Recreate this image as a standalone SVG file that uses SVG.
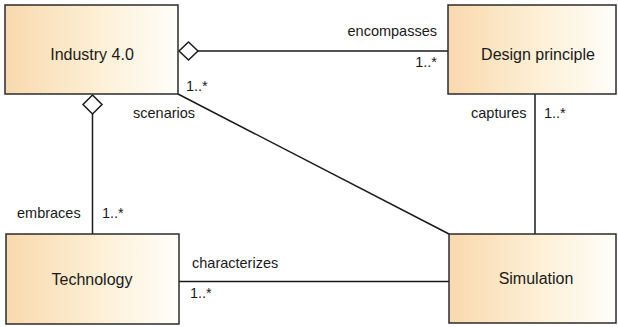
<svg xmlns="http://www.w3.org/2000/svg" width="618" height="327" viewBox="0 0 618 327">
<defs>
<linearGradient id="g" x1="0" y1="0" x2="1" y2="0">
<stop offset="0" stop-color="#f9d9ae"/>
<stop offset="0.55" stop-color="#fdf0d6"/>
<stop offset="1" stop-color="#fffefa"/>
</linearGradient>
<style>
.box{fill:url(#g);stroke:#2b2b2b;stroke-width:1.5}
.shadow{fill:#c8c8c8}
.nt{font-family:"Liberation Sans",Arial,sans-serif;font-size:16px;fill:#1a1a1a;text-anchor:middle}
.lb{font-family:"Liberation Sans",Arial,sans-serif;font-size:14.5px;fill:#1a1a1a}
.ln{fill:none;stroke:#1a1a1a;stroke-width:1.5}
.dia{fill:#fff;stroke:#1a1a1a;stroke-width:1.5}
</style>
</defs>
<g id="connectors">
<line class="ln" x1="198" y1="51" x2="448" y2="51"/>
<polygon class="dia" points="179,51 188.5,42 198,51 188.5,60"/>
<line class="ln" x1="92.5" y1="114" x2="92.5" y2="234"/>
<polygon class="dia" points="92.5,95 102,104.5 92.5,114 83,104.5"/>
<line class="ln" x1="178" y1="94" x2="449" y2="234"/>
<line class="ln" x1="179" y1="281.5" x2="449" y2="281.5"/>
<line class="ln" x1="535" y1="94" x2="535" y2="234"/>
<text class="lb" x="437" y="36" text-anchor="end">encompasses</text>
<text class="lb" x="437" y="67" text-anchor="end">1..*</text>
<text class="lb" x="186" y="91">1..*</text>
<text class="lb" x="133" y="118">scenarios</text>
<text class="lb" x="17" y="218">embraces</text>
<text class="lb" x="102" y="218">1..*</text>
<text class="lb" x="192" y="268">characterizes</text>
<text class="lb" x="190" y="298">1..*</text>
<text class="lb" x="471" y="118">captures</text>
<text class="lb" x="544" y="118">1..*</text>
</g>
<g id="industry">
<rect class="box" x="5" y="5" width="173" height="89"/>
<text class="nt" x="92" y="60">Industry 4.0</text>
</g>
<g id="design">
<rect class="box" x="448" y="5" width="168" height="89"/>
<text class="nt" x="538" y="60">Design principle</text>
</g>
<g id="technology">
<rect class="box" x="6" y="234" width="173" height="90"/>
<text class="nt" x="92" y="285">Technology</text>
</g>
<g id="simulation">
<rect class="box" x="449" y="234" width="167" height="89"/>
<text class="nt" x="536" y="284">Simulation</text>
</g>
</svg>
